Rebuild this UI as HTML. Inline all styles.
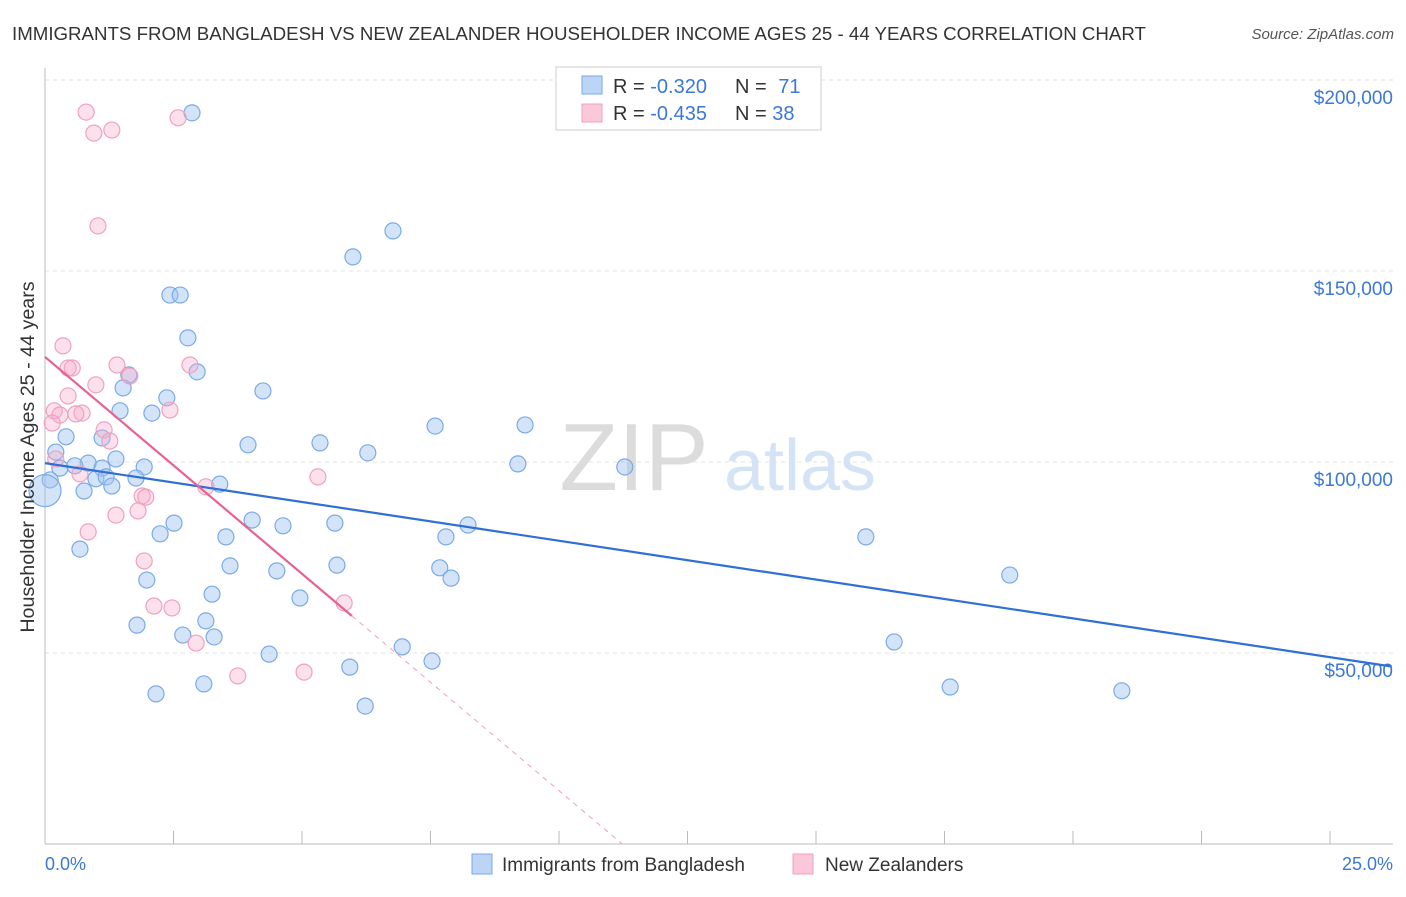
<!DOCTYPE html>
<html><head><meta charset="utf-8"><style>
body{margin:0;background:#fff;font-family:"Liberation Sans",sans-serif;}
svg text{font-family:"Liberation Sans",sans-serif;}
</style></head><body>
<svg id="chart" width="1406" height="892" viewBox="0 0 1406 892" xmlns="http://www.w3.org/2000/svg">
<text x="12" y="40" font-size="18.7" fill="#333">IMMIGRANTS FROM BANGLADESH VS NEW ZEALANDER HOUSEHOLDER INCOME AGES 25 - 44 YEARS CORRELATION CHART</text>
<text x="1394" y="39" font-size="15" fill="#555" font-style="italic" text-anchor="end">Source: ZipAtlas.com</text>
<g id="grid"></g>
<g>
<text x="634" y="490" font-size="96" fill="#dcdcdc" text-anchor="middle" font-family="Liberation Serif">ZIP</text>
<text x="800" y="490" font-size="72" fill="#d4e3f5" text-anchor="middle">atlas</text>
</g>
<g id="marks"></g>
<text transform="translate(34,457) rotate(-90)" font-size="19.7" fill="#333" text-anchor="middle">Householder Income Ages 25 - 44 years</text>
<text x="45" y="870" font-size="18" fill="#3b78d8">0.0%</text>
<text x="1393" y="870" font-size="18" fill="#3b78d8" text-anchor="end">25.0%</text>
<g>
<rect x="556" y="67" width="265" height="63" fill="#fff" stroke="#ccc"/>
<rect x="582" y="76" width="20" height="18" fill="#bcd4f5" stroke="#7aaae8"/>
<rect x="582" y="104" width="20" height="18" fill="#fac8d8" stroke="#f0a0c0"/>
<text x="613" y="93" font-size="20" fill="#333">R = <tspan fill="#3b78d8">-0.320</tspan></text>
<text x="735" y="93" font-size="20" fill="#333">N = <tspan dx="6" fill="#3b78d8">71</tspan></text>
<text x="613" y="120" font-size="20" fill="#333">R = <tspan fill="#3b78d8">-0.435</tspan></text>
<text x="735" y="120" font-size="20" fill="#333">N = <tspan fill="#3b78d8">38</tspan></text>
</g>
<g>
<rect x="472" y="854" width="20" height="20" fill="#bcd4f5" stroke="#7aaae8"/>
<text x="502" y="871" font-size="19" fill="#333">Immigrants from Bangladesh</text>
<rect x="793" y="854" width="20" height="20" fill="#fac8d8" stroke="#f0a0c0"/>
<text x="825" y="871" font-size="19" fill="#333">New Zealanders</text>
</g>
</svg>
<script>
const yTicks=[50,100,150,200];
const yTickLabels=["$50,000","$100,000","$150,000","$200,000"];
const blueX=[2.86,6.77,5.99,2.43,2.63,2.78,2.96,1.63,1.52,4.24,2.37,1.46,2.08,0.41,1.11,3.95,5.35,7.59,9.34,6.28,0.21,1.38,0.84,0.29,0.58,1.93,1.11,9.20,11.28,0.99,1.19,1.77,1.30,0.76,3.40,0.10,2.51,4.03,4.63,5.64,8.23,7.80,2.24,3.52,15.97,0.68,3.60,4.51,5.68,7.68,7.90,1.98,18.77,3.25,4.96,3.13,1.79,2.68,3.29,6.95,16.52,4.36,7.53,5.93,2.16,3.09,17.61,20.95,6.23,0.0];
const blueY=[191.4,160.5,153.7,143.7,143.7,132.5,123.6,122.8,119.4,118.6,116.8,113.4,112.8,106.6,106.3,104.5,105.0,109.4,109.7,102.4,102.6,100.8,99.7,98.4,99.0,98.7,98.4,99.5,98.7,95.6,96.1,95.8,93.7,92.4,94.2,95.3,84.0,84.8,83.3,84.0,83.5,80.4,81.2,80.4,80.4,77.2,72.8,71.5,73.0,72.3,69.6,69.1,70.4,65.4,64.4,58.4,57.3,54.7,54.2,51.6,52.9,49.7,47.9,46.3,39.3,41.9,41.1,40.1,36.1,92.5];
const pinkX=[0.80,2.59,1.30,0.95,1.03,0.35,0.53,0.45,1.40,2.82,1.65,0.99,0.45,0.18,0.72,0.29,2.43,0.14,0.60,1.15,1.26,0.21,0.68,5.31,3.13,1.89,1.96,1.81,1.38,0.84,1.93,2.12,2.47,5.82,2.94,3.75,5.04];
const pinkY=[191.6,190.1,186.9,186.1,161.8,130.4,124.6,124.6,125.4,125.4,122.5,120.2,117.3,113.4,112.8,112.3,113.6,110.2,112.6,108.4,105.5,100.8,96.9,96.1,93.5,91.1,90.8,87.2,86.1,81.7,74.1,62.3,61.8,63.1,52.6,44.0,45.0];
const blueTrend=[99.7,48.9];
const pinkTrend=[127.5,0,5.97,11.23];
const X=v=>45+v/25*1285, Y=v=>844-v*191/50;
const NS="http://www.w3.org/2000/svg";
const grid=document.getElementById('grid'), marks=document.getElementById('marks');
function mk(tag,attrs,parent){const e=document.createElementNS(NS,tag);for(const k in attrs)e.setAttribute(k,attrs[k]);parent.appendChild(e);return e;}
yTicks.forEach((t,i)=>{
 const l=mk('line',{x1:45,x2:1393,y1:Y(t),y2:Y(t),stroke:'#e3e3e3','stroke-dasharray':'4,4'},grid);
 
 
 const tx=mk('text',{x:1393,y:Y(t)+24,'font-size':19,fill:'#3b78d8','text-anchor':'end'},grid);
 tx.textContent=yTickLabels[i];
 
 
});
const ax=mk('line',{x1:45,x2:1393,y1:844,y2:844,stroke:'#bbb'},grid);


const ay=mk('line',{x1:45,x2:45,y1:68,y2:844,stroke:'#bbb'},grid);


for(let i=0;i<=10;i++){
 const tk=mk('line',{x1:X(i*2.5),x2:X(i*2.5),y1:831,y2:844,stroke:'#bbb'},grid);
 
 
}
blueX.forEach((x,i)=>{
 const c=mk('circle',{cx:X(x),cy:Y(blueY[i]),r:i===blueX.length-1?16:8,fill:'rgba(160,196,240,0.45)',stroke:'#7aaae8','stroke-width':1.2},marks);
 
 
});
pinkX.forEach((x,i)=>{
 const c=mk('circle',{cx:X(x),cy:Y(pinkY[i]),r:8,fill:'rgba(245,170,200,0.35)',stroke:'#f0a0c0','stroke-width':1.2},marks);
 
 
});
const bl=mk('line',{x1:X(0),y1:Y(blueTrend[0]),x2:X(26.2),y2:Y(blueTrend[0]+(blueTrend[1]-blueTrend[0])*26.2/25),stroke:'#2f6fd6','stroke-width':2.2},marks);


const pf=v=>pinkTrend[0]+(pinkTrend[1]-pinkTrend[0])*v/pinkTrend[3];
const pl=mk('line',{x1:X(0),y1:Y(pinkTrend[0]),x2:X(pinkTrend[2]),y2:Y(pf(pinkTrend[2])),stroke:'#e8628e','stroke-width':2.2},marks);


const pd=mk('line',{x1:X(pinkTrend[2]),y1:Y(pf(pinkTrend[2])),x2:X(pinkTrend[3]),y2:Y(pinkTrend[1]),stroke:'#f0a0b8','stroke-width':1,'stroke-dasharray':'5,5'},marks);


</script>
</body></html>
